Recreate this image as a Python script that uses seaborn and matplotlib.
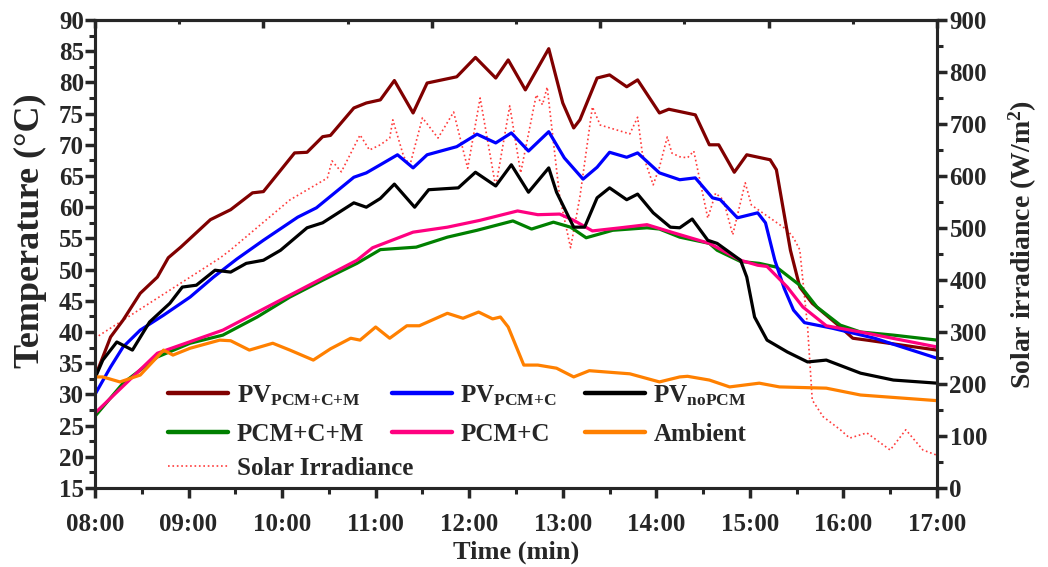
import numpy as np
import pandas as pd
import matplotlib
matplotlib.use('Agg')
import matplotlib.pyplot as plt
import seaborn as sns
from matplotlib.ticker import MultipleLocator, FuncFormatter

# ---------------- data (minutes after 08:00) ----------------
t_pv_pcm_cm = [0, 1, 10, 18, 29, 40, 47, 55, 74, 87, 101, 108, 128, 136, 146, 151, 166, 174, 183, 192,
               204, 213, 232, 244, 257, 265, 276, 291, 300, 307, 311, 322, 330, 341, 348, 362, 368, 385,
               394, 400, 410, 418, 433, 437, 446, 452, 460, 478, 486, 495, 540]
T_pv_pcm_cm = [32.5, 33.4, 39.2, 41.9, 46.2, 48.8, 51.9, 53.6, 58.0, 59.6, 62.3, 62.5, 68.7, 68.8, 71.3,
               71.5, 75.9, 76.7, 77.2, 80.3, 75.1, 79.9, 80.9, 84.0, 80.7, 83.6, 78.8, 85.4, 76.7, 72.7,
               74.0, 80.7, 81.2, 79.3, 80.4, 75.1, 75.7, 74.8, 70.0, 70.0, 65.6, 68.4, 67.6, 66.0, 53.1,
               47.2, 44.6, 40.8, 39.0, 38.7, 37.1]

t_pv_pcm_c = [0, 10, 18, 29, 44, 61, 76, 91, 108, 130, 142, 166, 174, 183, 194, 204, 213, 232, 245, 257,
              267, 278, 291, 301, 313, 322, 330, 341, 348, 362, 375, 385, 396, 401, 412, 425, 430, 436,
              442, 448, 455, 473, 500, 540]
T_pv_pcm_c = [30.0, 34.4, 37.6, 40.3, 42.7, 45.6, 48.8, 51.7, 54.7, 58.4, 59.9, 64.8, 65.5, 66.8, 68.4,
              66.3, 68.4, 69.7, 71.7, 70.3, 71.9, 69.0, 72.1, 67.9, 64.5, 66.4, 68.8, 68.0, 68.7, 65.5,
              64.4, 64.7, 61.5, 61.2, 58.3, 59.1, 57.5, 51.5, 47.0, 43.5, 41.5, 40.6, 39.0, 35.8]

t_pv_nopcm = [0, 5, 14, 24, 35, 48, 56, 65, 77, 87, 97, 108, 119, 136, 146, 166, 174, 183, 192, 205, 214,
              233, 244, 257, 267, 278, 291, 296, 307, 314, 322, 330, 341, 348, 358, 369, 375, 383, 393,
              399, 414, 418, 423, 431, 444, 457, 469, 491, 512, 540]
T_pv_nopcm = [32.6, 35.5, 38.4, 37.1, 41.6, 44.6, 47.2, 47.5, 49.9, 49.6, 51.0, 51.5, 53.1, 56.7, 57.5,
              60.7, 60.0, 61.4, 63.7, 60.0, 62.8, 63.1, 65.6, 63.4, 66.8, 62.4, 66.3, 62.4, 56.8, 56.8,
              61.5, 63.1, 61.2, 62.1, 59.1, 56.8, 56.7, 58.1, 54.7, 54.2, 51.5, 48.8, 42.4, 38.7, 36.8,
              35.2, 35.5, 33.4, 32.3, 31.8]

t_pcm_cm = [0, 18, 40, 61, 82, 104, 125, 146, 168, 183, 206, 226, 245, 268, 280, 294, 305, 315, 332, 354,
            362, 375, 394, 399, 414, 426, 437, 452, 463, 478, 491, 512, 540]
T_pcm_cm = [26.5, 31.8, 36.0, 38.2, 39.5, 42.4, 45.6, 48.3, 51.0, 53.2, 53.6, 55.2, 56.3, 57.8, 56.5,
            57.6, 56.8, 55.1, 56.3, 56.7, 56.5, 55.2, 54.2, 53.1, 51.3, 51.0, 50.4, 47.5, 44.0, 41.1,
            40.0, 39.5, 38.7]

t_pcm_c = [0, 40, 82, 125, 168, 178, 204, 226, 247, 271, 284, 298, 307, 319, 337, 354, 371, 394, 414,
           425, 431, 444, 454, 469, 491, 540]
T_pcm_c = [27.0, 36.6, 40.3, 45.9, 51.5, 53.5, 56.0, 56.8, 57.9, 59.4, 58.8, 58.9, 57.9, 56.2, 56.7,
           57.2, 55.9, 54.2, 51.5, 50.7, 50.5, 47.2, 44.0, 41.0, 40.0, 37.6]

t_ambient = [0, 5, 16, 29, 44, 50, 61, 80, 87, 99, 114, 125, 140, 151, 164, 170, 180, 189, 200, 208,
             226, 236, 246, 255, 260, 265, 275, 284, 296, 307, 317, 343, 362, 375, 380, 394, 407, 426,
             439, 469, 491, 540]
T_ambient = [32.8, 32.8, 32.0, 33.1, 37.1, 36.3, 37.4, 38.7, 38.6, 37.1, 38.2, 37.1, 35.5, 37.3, 39.0,
             38.7, 40.8, 39.0, 41.0, 41.0, 43.0, 42.2, 43.2, 42.1, 42.4, 40.8, 34.7, 34.7, 34.2, 32.8,
             33.8, 33.3, 32.0, 32.8, 32.9, 32.3, 31.2, 31.8, 31.2, 31.0, 29.9, 29.0]

t_solar = [0, 3, 80, 87, 125, 149, 152, 158, 170, 176, 183, 189, 191, 198, 202, 210, 220, 230, 239, 247,
           257, 266, 273, 283, 287, 290, 298, 305, 311, 319, 324, 343, 348, 351, 358, 362, 367, 370,
           375, 380, 384, 393, 398, 403, 409, 417, 421, 435, 444, 448, 452, 457, 460, 467, 478, 484,
           495, 510, 520, 531, 540]
G_solar = [288, 294, 442, 458, 554, 596, 629, 608, 679, 650, 660, 673, 708, 637, 621, 712, 673, 723, 615,
           750, 579, 735, 606, 756, 737, 771, 560, 462, 560, 733, 698, 681, 713, 644, 583, 617, 675, 644,
           637, 635, 648, 519, 567, 554, 487, 587, 544, 515, 496, 481, 458, 310, 169, 137, 112, 96, 106,
           73, 112, 73, 63]

x_ticks = [0, 60, 120, 180, 240, 300, 360, 420, 480, 540]

# ---------------- style ----------------
sns.set_style('white')
plt.rcParams['font.family'] = ['Liberation Serif', 'DejaVu Serif']
plt.rcParams['font.weight'] = 'bold'
plt.rcParams['mathtext.fontset'] = 'custom'
plt.rcParams['mathtext.rm'] = 'Liberation Serif:bold'
plt.rcParams['mathtext.bf'] = 'Liberation Serif:bold'
plt.rcParams['mathtext.it'] = 'Liberation Serif:bold'
plt.rcParams['axes.linewidth'] = 2.2

FS = 18
fig = plt.figure(figsize=(10.48, 5.67), dpi=100)
ax = fig.add_axes([95 / 1048, 1 - 488 / 567, (937 - 95) / 1048, (488 - 20) / 567])
ax2 = ax.twinx()

series = [
    (t_pv_pcm_cm, T_pv_pcm_cm, '#800000', r'PV$_{\mathbf{PCM{+}C{+}M}}$'),
    (t_pcm_cm, T_pcm_cm, '#008000', 'PCM+C+M'),
    (t_pv_pcm_c, T_pv_pcm_c, '#0000FF', r'PV$_{\mathbf{PCM{+}C}}$'),
    (t_pcm_c, T_pcm_c, '#FF0080', 'PCM+C'),
    (t_pv_nopcm, T_pv_nopcm, '#000000', r'PV$_{\mathbf{noPCM}}$'),
    (t_ambient, T_ambient, '#FF8000', 'Ambient'),
]
handles = []
for t, v, c, lab in series:
    sns.lineplot(x=t, y=v, ax=ax, color=c, linewidth=2.3, estimator=None, sort=False, legend=False)
    handles.append(plt.Line2D([], [], color=c, lw=3.2, label=lab))

sns.lineplot(x=t_solar, y=G_solar, ax=ax2, color='#FF3B3B', linewidth=1.2, linestyle=':',
             estimator=None, sort=False, legend=False)
h_solar = plt.Line2D([], [], color='#FF3B3B', lw=1.2, ls=':', label='Solar Irradiance')

ax.set_zorder(ax2.get_zorder() + 1)
ax.patch.set_visible(False)

ax.set_xlim(0, 540)
ax.set_ylim(15, 90)
ax2.set_ylim(0, 900)

ax.set_xticks(x_ticks)
ax.xaxis.set_minor_locator(MultipleLocator(30))
ax.xaxis.set_major_formatter(FuncFormatter(lambda v, p: f'{8 + int(v) // 60:02d}:{int(v) % 60:02d}'))
ax.yaxis.set_major_locator(MultipleLocator(5))
ax.yaxis.set_minor_locator(MultipleLocator(2.5))
ax2.yaxis.set_major_locator(MultipleLocator(100))
ax2.yaxis.set_minor_locator(MultipleLocator(50))

ax.tick_params(axis='x', which='major', direction='out', length=7, width=2.5, labelsize=FS, pad=11,
               bottom=True, top=False)
ax.tick_params(axis='x', which='minor', direction='out', length=4, width=2.2, bottom=True, top=False)
ax.tick_params(axis='y', which='major', direction='out', length=7, width=2.5, labelsize=FS, pad=1,
               left=True, right=False)
ax.tick_params(axis='y', which='minor', direction='out', length=4, width=2.2, left=True, right=False)
ax2.tick_params(axis='y', which='major', direction='out', length=7, width=2.5, labelsize=FS, pad=2)
ax2.tick_params(axis='y', which='minor', direction='out', length=4, width=2.2)
for lab in ax.get_xticklabels() + ax.get_yticklabels() + ax2.get_yticklabels():
    lab.set_fontweight('bold')

# top mirror ticks (5 intervals)
sec = ax.secondary_xaxis('top', functions=(lambda m: m / 540.0, lambda f: f * 540.0))
sec.set_xticks([0, 0.2, 0.4, 0.6, 0.8, 1.0])
sec.xaxis.set_minor_locator(MultipleLocator(0.1))
sec.tick_params(which='major', direction='in', length=6, width=2.5, labeltop=False)
sec.tick_params(which='minor', direction='in', length=3, width=2.2)
sec.spines['top'].set_linewidth(2.2)

ax.set_xlabel('Time (min)', fontsize=FS + 1, fontweight='bold', labelpad=3)
ax.set_ylabel('Temperature (°C)', fontsize=26, fontweight='bold')
ax.yaxis.set_label_coords(-0.057, 0.55)
ax2.set_ylabel('Solar irradiance (W/m$^\\mathbf{2}$)', fontsize=20, fontweight='bold')
ax2.yaxis.set_label_coords(1.083, 0.52)

leg_kw = dict(frameon=False, prop={'family': 'Liberation Serif', 'weight': 'bold', 'size': FS},
              handlelength=2.4, handletextpad=0.35, borderpad=0, borderaxespad=0)
leg1 = fig.legend(handles=handles, ncol=3, loc='upper left', bbox_to_anchor=(168 / 1048, 1 - 383 / 567),
                  columnspacing=1.1, labelspacing=0.6, **leg_kw)
leg2 = fig.legend(handles=[h_solar], loc='upper left', bbox_to_anchor=(168 / 1048, 1 - 457 / 567), **leg_kw)

fig.savefig('out.png', dpi=100)
